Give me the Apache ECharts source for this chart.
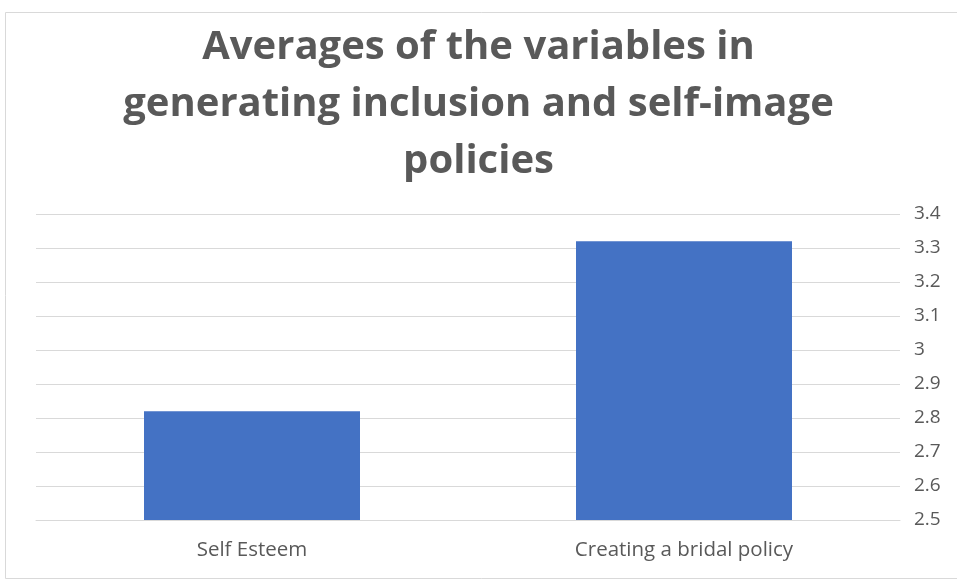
<!DOCTYPE html>
<html>
<head>
<meta charset="utf-8">
<script src="https://cdn.jsdelivr.net/npm/echarts@6/dist/echarts.min.js"></script>
<style>
  html, body { margin: 0; padding: 0; background: #ffffff; }
  #chart { width: 957px; height: 581px; }
</style>
</head>
<body>
<div id="chart"></div>
<script>
// Category names along the bottom axis
const categories = ['Self Esteem', 'Creating a bridal policy'];
// Mean score per variable
const averages = [2.82, 3.32];
// Value axis range and step
const axisMin = 2.5;
const axisMax = 3.4;
const axisStep = 0.1;

const chart = echarts.init(document.getElementById('chart'), null, { renderer: 'canvas' });

chart.setOption({
  backgroundColor: '#ffffff',
  animation: false,
  title: {
    text: 'Averages of the variables in\ngenerating inclusion and self-image\npolicies',
    left: 'center',
    top: 14,
    textStyle: {
      fontFamily: 'Open Sans',
      fontWeight: 'bold',
      fontSize: 40,
      lineHeight: 57,
      color: '#595959'
    }
  },
  graphic: [{
    type: 'rect',
    shape: { x: 5.5, y: 12.5, width: 960, height: 566 },
    style: { fill: 'none', stroke: '#d9d9d9', lineWidth: 1 },
    silent: true
  }],
  grid: {
    left: 36,
    right: 57,
    top: 214,
    bottom: 61
  },
  xAxis: {
    type: 'category',
    data: categories,
    axisLine: { show: true, lineStyle: { color: '#d9d9d9', width: 1 } },
    axisTick: { show: false },
    axisLabel: {
      color: '#595959',
      fontFamily: 'Open Sans',
      fontSize: 20.5,
      margin: 20
    }
  },
  yAxis: {
    type: 'value',
    position: 'right',
    min: axisMin,
    max: axisMax,
    interval: axisStep,
    axisLine: { show: false },
    axisTick: { show: false },
    splitLine: { show: true, lineStyle: { color: '#d9d9d9', width: 1 } },
    axisLabel: {
      color: '#595959',
      fontFamily: 'Open Sans',
      fontSize: 19,
      margin: 14,
      formatter: v => String(Math.round(v * 10) / 10)
    }
  },
  series: [{
    type: 'bar',
    data: averages,
    barWidth: '50%',
    itemStyle: { color: '#4472C4' }
  }]
});
</script>
</body>
</html>
